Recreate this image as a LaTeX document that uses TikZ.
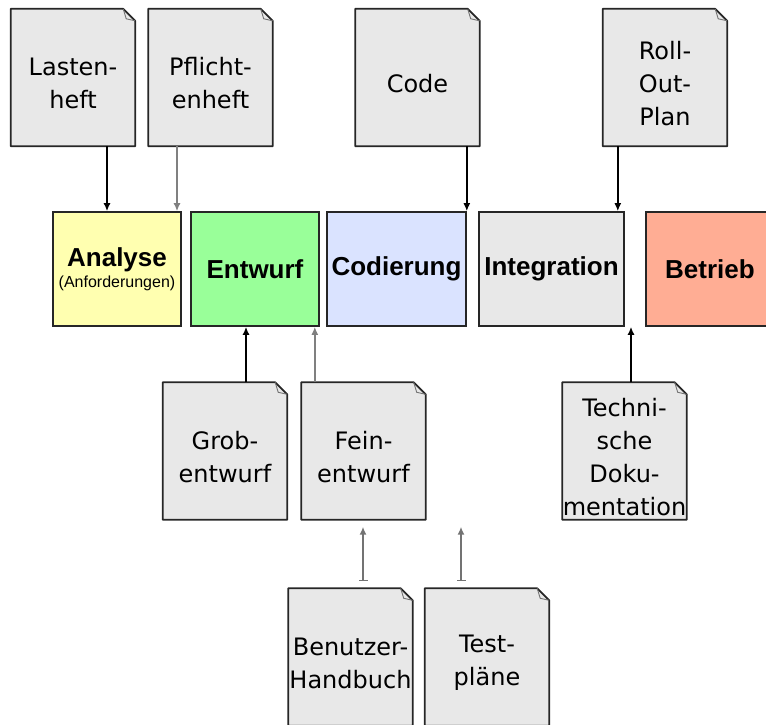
\documentclass[tikz,border=0pt]{standalone}
\usepackage{fontspec}
\setmainfont{DejaVu Sans}
\newfontfamily\phasefont{Liberation Sans}
\usetikzlibrary{arrows.meta,calc}
\definecolor{docgray}{HTML}{E8E8E8}
\definecolor{phaseyellow}{HTML}{FFFFB0}
\definecolor{phasegreen}{HTML}{99FF99}
\definecolor{phaseblue}{HTML}{DAE3FF}
\definecolor{phasegray}{HTML}{E8E8E8}
\definecolor{phasered}{HTML}{FFAD94}
\newcommand{\dogear}{12pt}
\tikzset{
	docbox/.style={rectangle,minimum width=124pt,minimum height=137pt,inner sep=0pt},
	docline/.style={fill=docgray,draw=black!85,line width=1.8pt,line join=round},
	foldline/.style={draw=black!55,line width=0.9pt,line join=round},
	doctext/.style={align=center,inner sep=0pt,font=\fontsize{24}{33}\selectfont},
	phase/.style={draw=black!85,line width=1.6pt,minimum height=114pt,inner sep=0pt,align=center,font=\phasefont\bfseries\fontsize{26}{30}\selectfont},
	arr/.style={-{Latex[length=8pt,width=7pt]},line width=1.8pt},
	grayarr/.style={arr,draw=black!50},
	freearr/.style={{Bar[width=9pt]}-{Latex[length=8pt,width=7pt]},line width=1.8pt,draw=black!55}
}
% document with a folded corner: name, centre, text
\newcommand{\docnode}[3]{%
	\node[docbox] (#1) at #2 {};
	\filldraw[docline] (#1.north west) -- ([xshift=-\dogear]#1.north east) -- ([yshift=-\dogear]#1.north east) -- (#1.south east) -- (#1.south west) -- cycle;
	\draw[foldline] ([xshift=-\dogear]#1.north east) -- ([xshift=-9pt,yshift=-10pt]#1.north east) -- ([yshift=-\dogear]#1.north east);
	\node[doctext] (#1-t) at ([yshift=-6pt]#1.center) {#3};
}
\begin{document}
\begin{tikzpicture}[x=1pt,y=-1pt]
	\useasboundingbox (0,0) rectangle (766,725);
	\clip (0,0) rectangle (766,725);
	% phases
	\node[phase,fill=phaseyellow,minimum width=128pt] (analyse) at (117,269) {Analyse\\[-9pt]{\mdseries\fontsize{16}{18}\selectfont(Anforderungen)}};
	\node[phase,fill=phasegreen,minimum width=128pt] (entwurf) at (255,269) {Entwurf};
	\node[phase,fill=phaseblue,minimum width=139pt] (codierung) at (396.5,269) {Codierung};
	\node[phase,fill=phasegray,minimum width=145pt] (integration) at (551.5,269) {Integration};
	\node[phase,fill=phasered,minimum width=128pt] (betrieb) at (710,269) {Betrieb};
	% documents
	\docnode{lasten}{(73,77.5)}{Lasten-\\heft}
	\docnode{pflicht}{(210.5,77.5)}{Pflicht-\\enheft}
	\docnode{code}{(417.5,77.5)}{Code}
	\docnode{rollout}{(665,77.5)}{Roll-\\Out-\\Plan}
	\docnode{grob}{(225,451)}{Grob-\\entwurf}
	\docnode{fein}{(363.5,451)}{Fein-\\entwurf}
	\docnode{techdoku}{(624.5,451)}{Techni-\\sche\\Doku-\\mentation}
	\docnode{handbuch}{(350.5,657)}{Benutzer-\\Handbuch}
	\docnode{testplan}{(487,657)}{Test-\\pläne}
	% inputs from above
	\draw[arr] ([xshift=34pt]lasten.south) -- ([xshift=34pt]lasten.south |- analyse.north);
	\draw[grayarr] ([xshift=-33.5pt]pflicht.south) -- ([xshift=-33.5pt]pflicht.south |- analyse.north);
	\draw[arr] (code.south -| codierung.east) -- (codierung.north east);
	\draw[arr] ([xshift=-7pt]rollout.south -| integration.east) -- ([xshift=-7pt]integration.north east);
	% inputs from below
	\draw[arr] ([xshift=21pt]grob.north) -- ([xshift=21pt]grob.north |- entwurf.south);
	\draw[grayarr] ([xshift=-5pt]fein.north -| entwurf.east) -- ([xshift=-5pt]entwurf.south east);
	\draw[arr] ([xshift=6.5pt]techdoku.north) -- ([xshift=6.5pt]techdoku.north |- integration.south);
	\coordinate (hb-top) at ([shift={(12.5pt,7pt)}]handbuch.north);
	\coordinate (tp-top) at ([shift={(-26pt,7pt)}]testplan.north);
	\draw[freearr] (hb-top) -- ([yshift=-7pt]hb-top |- fein.south);
	\draw[freearr] (tp-top) -- ([yshift=-7pt]tp-top |- fein.south);
\end{tikzpicture}
\end{document}
